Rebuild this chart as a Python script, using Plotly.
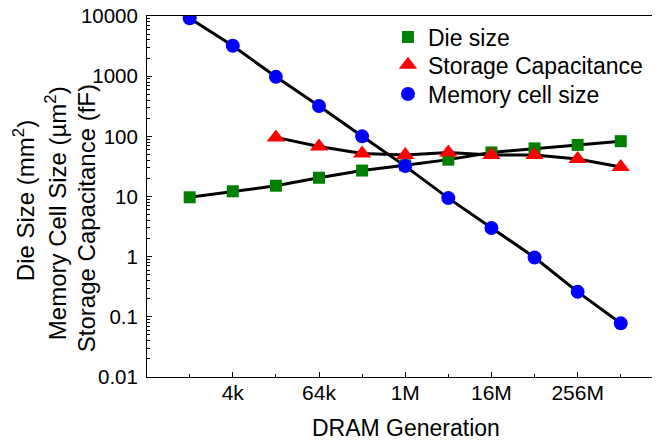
import plotly.graph_objects as go

# DRAM generations (x categories)
gens = ["1k", "4k", "16k", "64k", "256k", "1M", "4M", "16M", "64M", "256M", "1G"]
major_labels = ["4k", "64k", "1M", "16M", "256M"]

# Series values
die_size = [9.7, 12.2, 15.1, 20.5, 27, 33, 41, 54, 63, 72, 83]          # mm^2
cap_gens = ["16k", "64k", "256k", "1M", "4M", "16M", "64M", "256M", "1G"]
capacitance = [96, 68, 52, 49, 54, 49, 49, 42, 31]                       # fF
cell_size = [9200, 3200, 975, 320, 100, 32, 9.4, 3.0, 0.97, 0.26, 0.078]  # um^2

y_tickvals = [0.01, 0.1, 1, 10, 100, 1000, 10000]
y_ticktext = ["0.01", "0.1", "1", "10", "100", "1000", "10000"]

idx = {g: i for i, g in enumerate(gens)}
x_all = [idx[g] for g in gens]
x_cap = [idx[g] for g in cap_gens]
major_vals = [idx[g] for g in major_labels]
minor_vals = [i for i in x_all if i not in major_vals]

FONT = "Liberation Sans, Arial, sans-serif"

fig = go.Figure()

# connecting black lines (behind markers)
for xs, ys in [(x_all, die_size), (x_cap, capacitance), (x_all, cell_size)]:
    fig.add_trace(go.Scatter(x=xs, y=ys, mode="lines",
                             line=dict(color="black", width=3),
                             showlegend=False, hoverinfo="skip"))

fig.add_trace(go.Scatter(x=x_all, y=die_size, mode="markers", name="Die size",
                         legend="legend",
                         marker=dict(symbol="square", size=12, color="#008000",
                                     line=dict(width=0))))
fig.add_trace(go.Scatter(x=x_cap, y=capacitance, mode="markers",
                         name="Storage Capacitance", legend="legend2",
                         marker=dict(symbol="triangle-up", size=16, color="#ff0000",
                                     line=dict(width=0))))
fig.add_trace(go.Scatter(x=x_all, y=cell_size, mode="markers",
                         name="Memory cell size", legend="legend3",
                         marker=dict(symbol="circle", size=14, color="#0000ff",
                                     line=dict(width=0))))

xr = [-0.99, 10.98]
yr = [-2, 4]

def leg(y):
    return dict(x=0.467, y=y, xanchor="left", yanchor="middle",
                bgcolor="rgba(0,0,0,0)", borderwidth=0,
                font=dict(size=23, family=FONT, color="black"))

fig.update_layout(
    width=660, height=442,
    margin=dict(l=139, r=5, t=8, b=73, autoexpand=False),
    paper_bgcolor="white", plot_bgcolor="white",
    font=dict(family=FONT, size=20, color="black"),
    showlegend=True,
    legend=leg(0.942), legend2=leg(0.8645), legend3=leg(0.784),
    xaxis=dict(range=xr, showgrid=False, zeroline=False, automargin=False,
               showline=True, mirror=True, linecolor="black", linewidth=1,
               ticks="inside", ticklen=5, tickwidth=1, tickcolor="black",
               tickmode="array", tickvals=major_vals, ticktext=major_labels,
               minor=dict(tickmode="array", tickvals=minor_vals,
                          ticks="inside", ticklen=3, tickcolor="black"),
               tickfont=dict(size=21), ticklabelstandoff=-3,
               ticklabeloverflow="allow"),
    xaxis2=dict(range=xr, overlaying="x", side="top", showgrid=False,
                zeroline=False, automargin=False,
                showline=True, linecolor="black", linewidth=1,
                ticks="inside", ticklen=4, tickcolor="black",
                tickmode="array", tickvals=x_all, showticklabels=False),
    yaxis=dict(type="log", range=yr, showgrid=False, zeroline=False,
               automargin=False,
               showline=True, mirror=True, linecolor="black", linewidth=1,
               ticks="inside", ticklen=5, tickwidth=1, tickcolor="black",
               tickmode="array", tickvals=y_tickvals, ticktext=y_ticktext,
               minor=dict(ticks="inside", ticklen=3, tickcolor="black", dtick="D1"),
               tickfont=dict(size=20.5), ticklabelstandoff=4,
               ticklabeloverflow="allow"),
    yaxis2=dict(type="log", range=yr, overlaying="y", side="right",
                showgrid=False, zeroline=False, automargin=False,
                showline=True, linecolor="black", linewidth=1,
                ticks="inside", ticklen=8, tickcolor="black",
                tickmode="array", tickvals=y_tickvals, showticklabels=False),
    annotations=[
        dict(text="Die Size (mm<sup>2</sup>)", xref="paper", yref="paper",
             x=-0.237, y=0.489, xanchor="center", yanchor="middle",
             textangle=-90, showarrow=False, font=dict(size=24, family=FONT)),
        dict(text="Memory Cell Size (µm<sup>2</sup>)", xref="paper", yref="paper",
             x=-0.175, y=0.453, xanchor="center", yanchor="middle",
             textangle=-90, showarrow=False, font=dict(size=24, family=FONT)),
        dict(text="Storage Capacitance (fF)", xref="paper", yref="paper",
             x=-0.117, y=0.439, xanchor="center", yanchor="middle",
             textangle=-90, showarrow=False, font=dict(size=24, family=FONT)),
        dict(text="DRAM Generation", xref="paper", yref="paper",
             x=0.501, y=-0.142, xanchor="center", yanchor="middle",
             showarrow=False, font=dict(size=23, family=FONT)),
    ],
)

fig.write_html("out.html")
